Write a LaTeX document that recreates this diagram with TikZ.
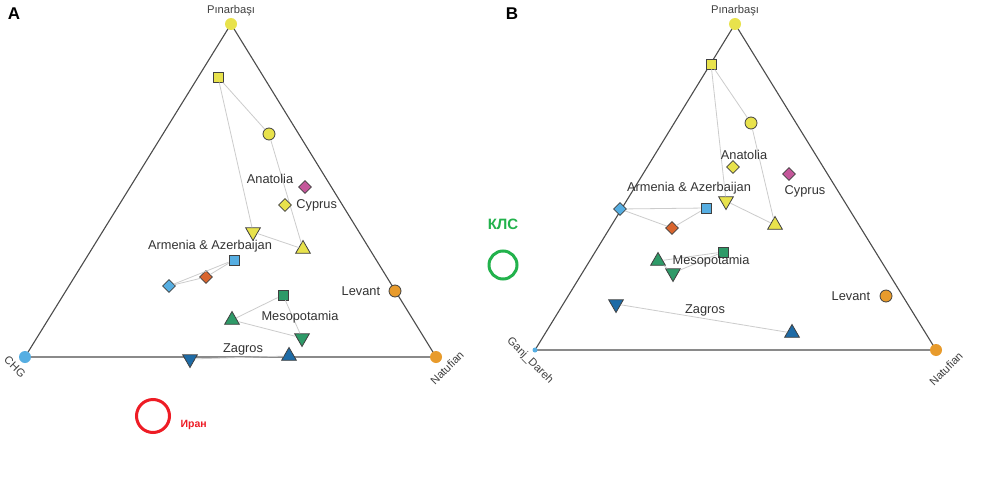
\documentclass[tikz,border=0pt]{standalone}
\usepackage{fontspec}
\setmainfont{Liberation Sans}
\usetikzlibrary{shapes.geometric,positioning}

\definecolor{yel}{HTML}{E8E24C}
\definecolor{pnk}{HTML}{C4579A}
\definecolor{org}{HTML}{D9652E}
\definecolor{lblu}{HTML}{56AEE2}
\definecolor{grn}{HTML}{2E9A68}
\definecolor{dblu}{HTML}{1E6BA6}
\definecolor{lev}{HTML}{E89B2C}
\definecolor{klsgrn}{HTML}{22B24C}
\definecolor{iranred}{HTML}{EE1C25}

\tikzset{
    mk/.style={draw=black!75, line width=0.8pt, inner sep=0pt},
    sq/.style={mk, rectangle, minimum size=10pt},
    circ/.style={mk, circle, minimum size=12pt},
    dia/.style={mk, diamond, minimum size=13pt},
    tup/.style={mk, regular polygon, regular polygon sides=3, minimum size=17pt},
    tdn/.style={tup, shape border rotate=180},
    apex/.style={circle, inner sep=0pt, minimum size=12pt},
    link/.style={draw=black!20, line width=0.8pt},
    side/.style={draw=black!70, line width=1.1pt},
    lab/.style={text=black!80, font=\fontsize{12.8}{15}\selectfont},
    vlab/.style={text=black!75, font=\fontsize{11.2}{13}\selectfont},
    panel/.style={font=\fontsize{17}{19}\selectfont\bfseries}
}

\begin{document}
\begin{tikzpicture}[x=1pt, y=-1pt]
    \useasboundingbox[fill=white] (0,0) rectangle (1000,495);

    % panel A
    \coordinate (topA) at (231,24);
    \coordinate (leftA) at (25,357);
    \coordinate (rightA) at (436,357);
    \draw[side] (topA) -- (leftA) -- (rightA) -- cycle;

    \node[panel] (tA) at (14,14) {A};
    \node[apex, fill=yel] (pinA) at (topA) {};
    \node[apex, fill=lblu] (chg) at (leftA) {};
    \node[apex, fill=lev] (natA) at (rightA) {};
    \node[vlab] (pinlA) at (231,11) {Pınarbaşı};
    \node[vlab, rotate=-45] (chgl) at (15,367) {CHG};
    \node[vlab, rotate=45] (natlA) at (447,368) {Natufian};

    % Anatolia
    \node[sq, fill=yel] (a1) at (218,77) {};
    \node[circ, fill=yel] (a2) at (269,134) {};
    \node[tdn, fill=yel] (a3) at (253,232) {};
    \node[tup, fill=yel] (a4) at (303,249) {};
    \path[link] (a1) edge (a2) edge (a3) (a4) edge (a2) edge (a3);
    \node[lab] (anlA) at (270,179) {Anatolia};
    \node[dia, fill=pnk] (cyA) at (305,187) {};
    \node[dia, fill=yel] (cyB) at (285,205) {};
    \node[lab, right=1pt of cyB] (cylA) {Cyprus};

    % Armenia & Azerbaijan
    \node[lab] (arlA) at (210,246) {Armenia \& Azerbaijan};
    \node[sq, fill=lblu] (r1) at (234,260) {};
    \node[dia, fill=org] (r2) at (206,277) {};
    \node[dia, fill=lblu] (r3) at (169,286) {};
    \path[link] (r3) edge (r1) edge (r2) (r2) edge (r1);

    % Levant
    \node[circ, fill=lev] (levA) at (395,291) {};
    \node[lab, left=5pt of levA] (levlA) {Levant};

    % Mesopotamia
    \node[sq, fill=grn] (m1) at (283,295) {};
    \node[tup, fill=grn] (m2) at (232,320) {};
    \node[tdn, fill=grn] (m3) at (302,338) {};
    \path[link] (m1) edge (m2) edge (m3) (m2) edge (m3);
    \node[lab] (melA) at (300,317) {Mesopotamia};

    % Zagros
    \node[tdn, fill=dblu] (z1) at (190,359) {};
    \node[tup, fill=dblu] (z2) at (289,356) {};
    \path[link] (z1) edge (z2);
    \node[lab] (zalA) at (243,349) {Zagros};

    \node[circle, draw=iranred, line width=3pt, minimum size=33pt] (iran) at (153,416) {};
    \node[text=iranred, font=\fontsize{10.5}{12}\selectfont\bfseries, right=6pt of iran, yshift=-9pt] (iranl) {Иран};

    % panel B
    \coordinate (topB) at (735,24);
    \coordinate (leftB) at (535,350);
    \coordinate (rightB) at (936,350);
    \draw[side] (topB) -- (leftB) -- (rightB) -- cycle;

    \node[panel] (tB) at (512,14) {B};
    \node[apex, fill=yel] (pinB) at (topB) {};
    \node[circle, inner sep=0pt, minimum size=5pt, fill=lblu] (ganj) at (leftB) {};
    \node[apex, fill=lev] (natB) at (rightB) {};
    \node[vlab] (pinlB) at (735,11) {Pınarbaşı};
    \node[vlab, rotate=-45] (ganjl) at (530,361) {Ganj\_Dareh};
    \node[vlab, rotate=45] (natlB) at (946,369) {Natufian};

    % Anatolia
    \node[sq, fill=yel] (b1) at (711,64) {};
    \node[circ, fill=yel] (b2) at (751,123) {};
    \node[tdn, fill=yel] (b3) at (726,201) {};
    \node[tup, fill=yel] (b4) at (775,225) {};
    \path[link] (b1) edge (b2) edge (b3) (b4) edge (b2) edge (b3);
    \node[lab] (anlB) at (744,155) {Anatolia};
    \node[dia, fill=yel] (cyC) at (733,167) {};
    \node[dia, fill=pnk] (cyD) at (789,174) {};
    \node[lab] (cylB) at (805,191) {Cyprus};

    % Armenia & Azerbaijan
    \node[lab] (arlB) at (689,188) {Armenia \& Azerbaijan};
    \node[dia, fill=lblu] (s3) at (620,209) {};
    \node[sq, fill=lblu] (s1) at (706,208) {};
    \node[dia, fill=org] (s2) at (672,228) {};
    \path[link] (s3) edge (s1) edge (s2) (s2) edge (s1);

    % Mesopotamia
    \node[sq, fill=grn] (n1) at (723,252) {};
    \node[tup, fill=grn] (n2) at (658,261) {};
    \node[tdn, fill=grn] (n3) at (673,273) {};
    \path[link] (n2) edge (n1) edge (n3) (n3) edge (n1);
    \node[lab] (melB) at (711,261) {Mesopotamia};

    % Levant
    \node[circ, fill=lev] (levB) at (886,296) {};
    \node[lab, left=6pt of levB] (levlB) {Levant};

    % Zagros
    \node[tdn, fill=dblu] (y1) at (616,304) {};
    \node[tup, fill=dblu] (y2) at (792,333) {};
    \path[link] (y1) edge (y2);
    \node[lab] (zalB) at (705,310) {Zagros};

    \node[text=klsgrn, font=\fontsize{15}{17}\selectfont\bfseries] (kls) at (503,224) {КЛС};
    \node[circle, draw=klsgrn, line width=3pt, minimum size=28pt] (klsc) at (503,265) {};
\end{tikzpicture}
\end{document}
